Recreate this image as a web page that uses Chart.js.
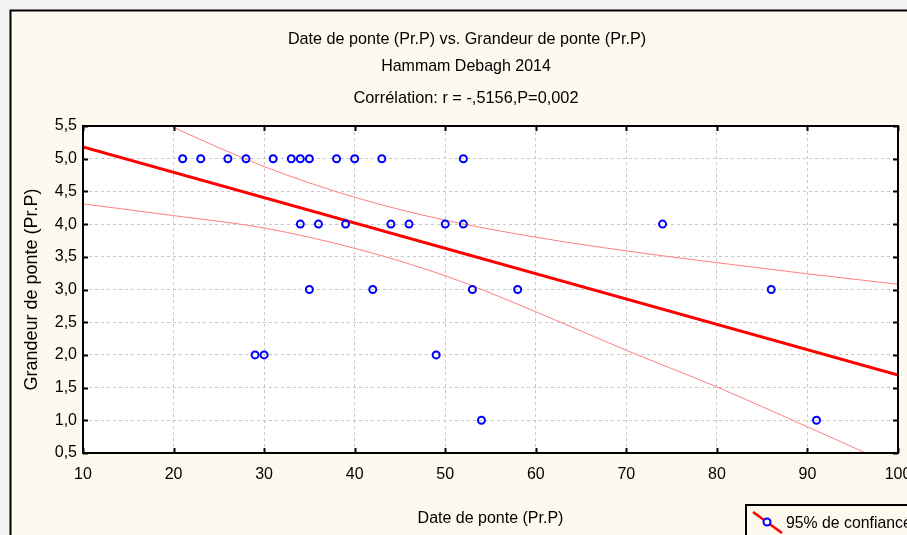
<!DOCTYPE html>
<html>
<head>
<meta charset="utf-8">
<script src="https://cdn.jsdelivr.net/npm/chart.js@4.4.1/dist/chart.umd.min.js"></script>
<style>
  html, body { margin: 0; padding: 0; background: #f2f2f2; }
  canvas { display: block; }
</style>
</head>
<body>
<canvas id="chart" width="907" height="535"></canvas>
<script>
// valeurs
const dateDePonte   = [21, 23, 26, 28, 31, 33, 34, 35, 38, 40, 43, 52,
                       34, 36, 39, 44, 46, 50, 52, 74,
                       35, 42, 53, 58, 86,
                       29, 30, 49,
                       54, 91];
const grandeurPonte = [5, 5, 5, 5, 5, 5, 5, 5, 5, 5, 5, 5,
                       4, 4, 4, 4, 4, 4, 4, 4,
                       3, 3, 3, 3, 3,
                       2, 2, 2,
                       1, 1];

// droite de régression
const fitX = [10, 100];
const fitY = [5.18, 1.69];

// bornes de l'intervalle de confiance 95%
const bandX  = [10, 20, 30, 40, 50, 60, 70, 80, 90, 100];
const upperY = [6.15, 5.48, 4.88, 4.41, 4.06, 3.80, 3.59, 3.41, 3.24, 3.08];
const lowerY = [4.31, 4.13, 3.94, 3.63, 3.21, 2.66, 2.07, 1.51, 0.90, 0.28];

const titleLines = [
    'Date de ponte (Pr.P) vs. Grandeur de ponte (Pr.P)',
    'Hammam Debagh 2014',
    'Corrélation: r = -,5156,P=0,002'
];
const legendLabel = '95% de confiance';

const sans = "'Liberation Sans', Arial, sans-serif";

function toPoints(xs, ys) {
    return xs.map((x, i) => ({ x: x, y: ys[i] }));
}

// texte un peu resserré comme sur l'original
function squeezedText(ctx, text, x, y, k) {
    ctx.save();
    ctx.translate(x, y);
    ctx.scale(k, 1);
    ctx.fillText(text, 0, 0);
    ctx.restore();
}

const framePlugin = {
    id: 'frame',
    beforeDraw(chart) {
        const ctx = chart.ctx;
        const a = chart.chartArea;
        ctx.save();
        ctx.fillStyle = '#f2f2f2';
        ctx.fillRect(0, 0, chart.width, chart.height);
        ctx.fillStyle = '#fef9ee';
        ctx.fillRect(10, 10, chart.width, chart.height);
        ctx.strokeStyle = '#000';
        ctx.lineWidth = 2;
        ctx.beginPath();
        ctx.moveTo(10.5, chart.height);
        ctx.lineTo(10.5, 10.5);
        ctx.lineTo(chart.width, 10.5);
        ctx.stroke();
        ctx.fillStyle = '#ffffff';
        ctx.fillRect(a.left, a.top, a.right - a.left, a.bottom - a.top);
        ctx.restore();
    },
    afterDraw(chart) {
        const ctx = chart.ctx;
        const a = chart.chartArea;
        const xs = chart.scales.x;
        const ys = chart.scales.y;
        ctx.save();

        // cadre du graphique et graduations intérieures
        ctx.strokeStyle = '#000';
        ctx.lineWidth = 2;
        ctx.strokeRect(a.left, a.top, a.right - a.left, a.bottom - a.top);
        ctx.beginPath();
        xs.ticks.forEach(t => {
            const px = Math.round(xs.getPixelForValue(t.value)) + 0.5;
            ctx.moveTo(px, a.top); ctx.lineTo(px, a.top + 5);
            ctx.moveTo(px, a.bottom); ctx.lineTo(px, a.bottom - 5);
        });
        ys.ticks.forEach(t => {
            const py = Math.round(ys.getPixelForValue(t.value)) + 0.5;
            ctx.moveTo(a.left, py); ctx.lineTo(a.left + 5, py);
            ctx.moveTo(a.right, py); ctx.lineTo(a.right - 5, py);
        });
        ctx.stroke();

        // titre
        ctx.fillStyle = '#000';
        ctx.textAlign = 'center';
        ctx.textBaseline = 'middle';
        ctx.font = '17px ' + sans;
        squeezedText(ctx, titleLines[0], 467, 39, 0.95);
        squeezedText(ctx, titleLines[1], 466, 66, 0.94);
        squeezedText(ctx, titleLines[2], 466, 98, 0.96);

        // légende
        ctx.fillStyle = '#fef9ee';
        ctx.fillRect(746, 505, 200, 60);
        ctx.strokeStyle = '#000';
        ctx.lineWidth = 2;
        ctx.strokeRect(746, 505, 200, 60);
        ctx.strokeStyle = '#ff0000';
        ctx.lineWidth = 2.5;
        ctx.beginPath();
        ctx.moveTo(753, 512);
        ctx.lineTo(782, 533);
        ctx.stroke();
        ctx.strokeStyle = '#0000ff';
        ctx.lineWidth = 2;
        ctx.fillStyle = '#ffffff';
        ctx.beginPath();
        ctx.arc(767, 522, 3.5, 0, Math.PI * 2);
        ctx.fill();
        ctx.stroke();
        ctx.fillStyle = '#000';
        ctx.textAlign = 'left';
        ctx.font = '17px ' + sans;
        squeezedText(ctx, legendLabel, 786, 523, 0.93);
        ctx.restore();
    }
};

new Chart(document.getElementById('chart'), {
    type: 'scatter',
    data: {
        datasets: [
            {
                label: 'Grandeur de ponte',
                data: toPoints(dateDePonte, grandeurPonte),
                pointStyle: 'circle',
                pointRadius: 3.5,
                pointBorderWidth: 2,
                pointBorderColor: '#0000ff',
                pointBackgroundColor: 'rgba(255,255,255,0)',
                showLine: false
            },
            {
                label: 'Régression',
                data: toPoints(fitX, fitY),
                showLine: true,
                borderColor: '#ff0000',
                borderWidth: 3,
                pointRadius: 0
            },
            {
                label: 'Borne sup.',
                data: toPoints(bandX, upperY),
                showLine: true,
                borderColor: '#ff8080',
                borderWidth: 1,
                pointRadius: 0,
                cubicInterpolationMode: 'monotone'
            },
            {
                label: 'Borne inf.',
                data: toPoints(bandX, lowerY),
                showLine: true,
                borderColor: '#ff8080',
                borderWidth: 1,
                pointRadius: 0,
                cubicInterpolationMode: 'monotone'
            }
        ]
    },
    options: {
        responsive: false,
        animation: false,
        devicePixelRatio: 1,
        layout: { padding: { top: 126, right: 9, left: 0, bottom: 0 } },
        plugins: {
            legend: { display: false },
            title: { display: false },
            tooltip: { enabled: false }
        },
        scales: {
            x: {
                type: 'linear',
                min: 10,
                max: 100,
                ticks: {
                    stepSize: 10,
                    color: '#000',
                    padding: 12,
                    maxRotation: 0,
                    autoSkip: false,
                    font: { family: sans, size: 16 }
                },
                grid: { color: '#c8c8c8', drawTicks: false },
                border: { display: false, dash: [3, 3] },
                title: {
                    display: true,
                    text: 'Date de ponte (Pr.P)',
                    color: '#000',
                    font: { family: sans, size: 16 },
                    padding: { top: 0, bottom: 7 }
                },
                afterFit(s) {
                    s.height = 82;
                    s.paddingLeft = 0;
                    s.paddingRight = 0;
                }
            },
            y: {
                type: 'linear',
                min: 0.5,
                max: 5.5,
                ticks: {
                    stepSize: 0.5,
                    color: '#000',
                    padding: 6,
                    font: { family: sans, size: 16 },
                    callback: v => v.toFixed(1).replace('.', ',')
                },
                grid: { color: '#c8c8c8', drawTicks: false },
                border: { display: false, dash: [3, 3] },
                title: {
                    display: true,
                    text: 'Grandeur de ponte (Pr.P)',
                    color: '#000',
                    font: { family: sans, size: 18 },
                    padding: { top: 21, bottom: 0 }
                },
                afterFit(s) {
                    s.width = 83;
                    s.paddingTop = 0;
                    s.paddingBottom = 0;
                }
            }
        }
    },
    plugins: [framePlugin]
});
</script>
</body>
</html>
